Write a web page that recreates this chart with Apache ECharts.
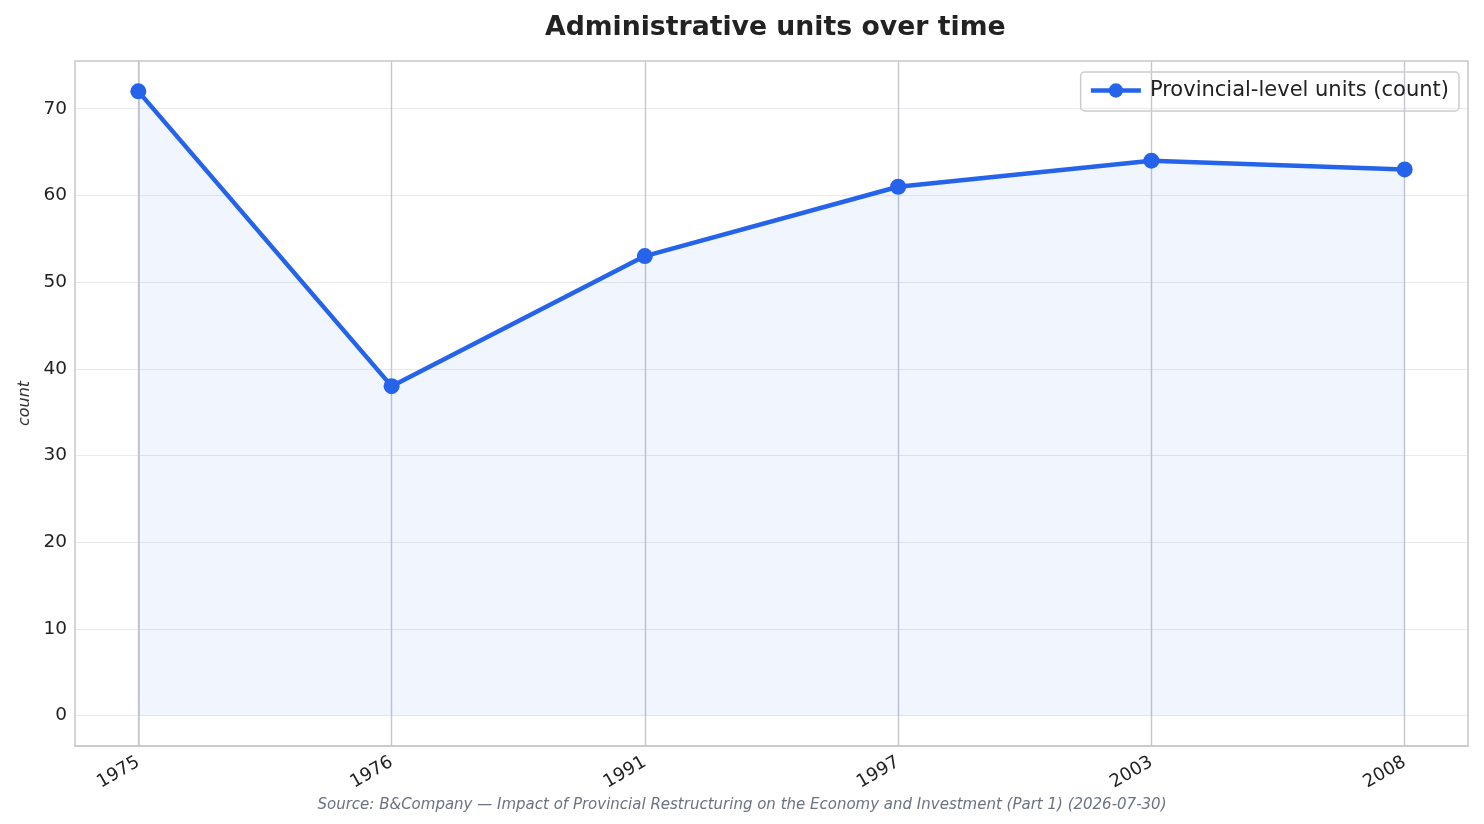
<!DOCTYPE html>
<html>
<head>
<meta charset="utf-8">
<script src="https://cdn.jsdelivr.net/npm/echarts@6/dist/echarts.min.js"></script>
<style>
  html, body { margin: 0; padding: 0; background: #fff; }
  #chart { width: 1484px; height: 824px; }
</style>
</head>
<body>
<div id="chart"></div>
<script>
// data
var years = ['1975', '1976', '1991', '1997', '2003', '2008'];
var units = [72, 38, 53, 61, 64, 63];
var yTicks = [0, 10, 20, 30, 40, 50, 60, 70];
var seriesName = 'Provincial-level units (count)';
var sourceText = 'Source: B&Company \u2014 Impact of Provincial Restructuring on the Economy and Investment (Part 1) (2026-07-30)';

var points = units.map(function (v, i) { return [i, v]; });
var xTicks = years.map(function (y, i) { return i; });
var font = 'DejaVu Sans';

var chart = echarts.init(document.getElementById('chart'));
var option = {
    backgroundColor: '#fff',
    animation: false,
    textStyle: { fontFamily: font },
    title: [
        {
            text: 'Administrative units over time',
            left: 540,
            top: 10,
            textStyle: { fontSize: 26.7, fontWeight: 'bold', color: '#222', fontFamily: font }
        },
        {
            text: sourceText,
            left: 'center',
            top: 793,
            textStyle: { fontSize: 15, fontStyle: 'italic', fontWeight: 'normal', color: '#6b7280', fontFamily: font }
        }
    ],
    legend: {
        right: 25,
        top: 72,
        padding: [8, 10, 10, 8],
        borderColor: '#cccccc',
        borderWidth: 1.5,
        borderRadius: 4,
        itemWidth: 50,
        itemHeight: 18,
        itemGap: 10,
        lineStyle: { width: 4.5 },
        textStyle: { fontSize: 21, color: '#222', fontFamily: font, padding: [0, 0, 0, 4] },
        data: [seriesName]
    },
    grid: { left: 75, right: 16, top: 61, bottom: 78, containLabel: false },
    xAxis: {
        type: 'value',
        min: -0.25,
        max: 5.25,
        axisLine: { show: true, onZero: false, lineStyle: { color: '#c8c8c8', width: 1.5 } },
        axisTick: { show: false, customValues: xTicks },
        axisLabel: {
            customValues: xTicks,
            rotate: 30,
            fontSize: 18,
            color: '#222',
            margin: 15,
            formatter: function (v) { return years[Math.round(v)]; }
        },
        splitLine: { show: true, customValues: xTicks, lineStyle: { color: '#c4c7d0', width: 1.4 } }
    },
    yAxis: {
        type: 'value',
        min: -3.5,
        max: 75.5,
        name: 'count',
        nameLocation: 'middle',
        nameGap: 42,
        nameTextStyle: { fontSize: 16, fontStyle: 'italic', color: '#333', fontFamily: font },
        axisLine: { show: true, lineStyle: { color: '#c8c8c8', width: 1.5 } },
        axisTick: { show: false, customValues: yTicks },
        axisLabel: {
            customValues: yTicks,
            fontSize: 18.5,
            color: '#222',
            margin: 8
        },
        splitLine: { show: true, customValues: yTicks, lineStyle: { color: '#eaeaea', width: 1.2 } }
    },
    graphic: [
        {
            type: 'rect',
            shape: { x: 75, y: 61, width: 1393, height: 685 },
            style: { fill: 'none', stroke: '#c8c8c8', lineWidth: 1.5 },
            silent: true,
            z: 100
        }
    ],
    series: [
        {
            name: seriesName,
            type: 'line',
            data: points,
            symbol: 'circle',
            symbolSize: 16,
            lineStyle: { color: '#2563eb', width: 4.5 },
            itemStyle: { color: '#2563eb' },
            areaStyle: { color: 'rgba(37, 99, 235, 0.095)', origin: 'auto' },
            z: 5
        }
    ]
};
chart.setOption(option);
</script>
</body>
</html>
